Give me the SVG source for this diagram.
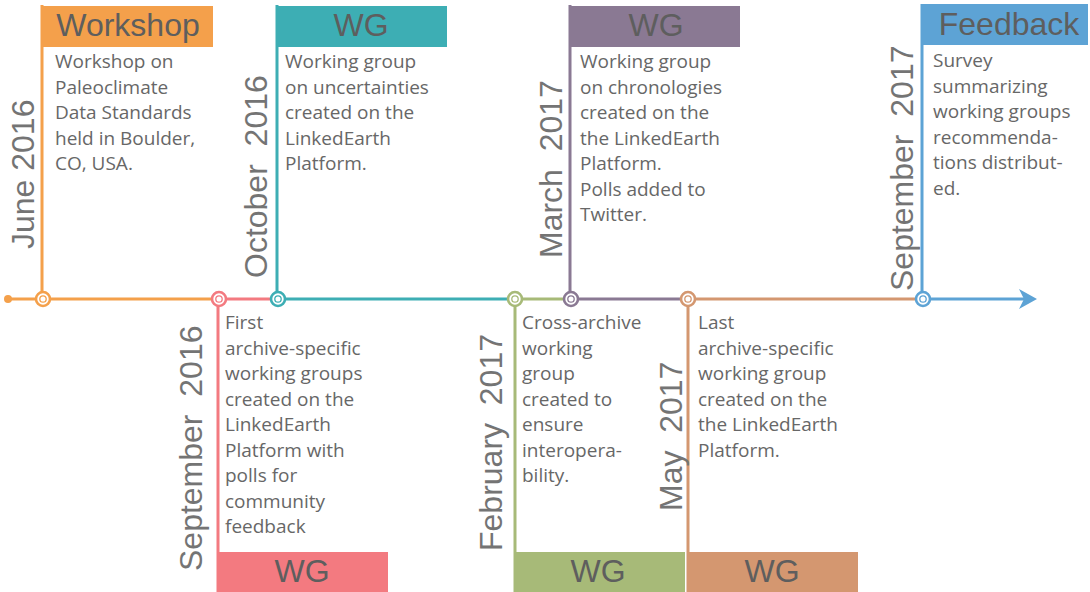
<svg xmlns="http://www.w3.org/2000/svg" width="1090" height="592" viewBox="0 0 1090 592">
<style>
.body{font-family:"Open Sans","Liberation Sans",sans-serif;font-size:19px;fill:#676767}
.title{font-family:"Liberation Sans",Arial,sans-serif;font-size:32px;fill:#5e5e5e;text-anchor:middle}
.date{font-family:"Liberation Sans",Arial,sans-serif;font-size:32px;fill:#747474;white-space:pre}
.stem{stroke-width:3;fill:none}
.seg{stroke-width:3;fill:none}
.ring{fill:#fff;stroke-width:2.6}
.dot{fill:none;stroke-width:1.3}
</style>
<rect width="1090" height="592" fill="#fff"/>
<g id="connectors">
<line class="seg" x1="8" y1="299" x2="219" y2="299" stroke="#F4A04B"/>
<circle cx="8" cy="299" r="4" fill="#F4A04B"/>
<line class="seg" x1="219" y1="299" x2="278" y2="299" stroke="#F37A80"/>
<line class="seg" x1="278" y1="299" x2="515" y2="299" stroke="#3DAEB4"/>
<line class="seg" x1="515" y1="299" x2="571" y2="299" stroke="#A7BA78"/>
<line class="seg" x1="571" y1="299" x2="688" y2="299" stroke="#8A7993"/>
<line class="seg" x1="688" y1="299" x2="923" y2="299" stroke="#D49770"/>
<line class="seg" x1="923" y1="299" x2="1025" y2="299" stroke="#5DA3D5"/>
<path d="M1037,299 L1019,289 L1024,299 L1019,309 Z" fill="#5DA3D5"/>
</g>
<g id="june2016">
<line class="stem" x1="42" y1="5" x2="42" y2="299" stroke="#F4A04B"/>
<rect x="41" y="6" width="172" height="41" fill="#F4A04B"/>
<text class="title" x="128" y="36">Workshop</text>
<text class="body" x="55" y="68"><tspan x="55">Workshop on</tspan><tspan x="55" dy="25.5">Paleoclimate</tspan><tspan x="55" dy="25.5">Data Standards</tspan><tspan x="55" dy="25.5">held in Boulder,</tspan><tspan x="55" dy="25.5">CO, USA.</tspan></text>
<text class="date" transform="translate(34,249) rotate(-90)">June 2016</text>
<circle class="ring" cx="43" cy="299" r="7" stroke="#F4A04B"/>
<circle class="dot" cx="43" cy="299" r="3.2" stroke="#F4A04B"/>
</g>
<g id="sep2016">
<line class="stem" x1="218" y1="299" x2="218" y2="592" stroke="#F37A80"/>
<rect x="217" y="552" width="171" height="40" fill="#F37A80"/>
<text class="title" x="302" y="582">WG</text>
<text class="body" x="225" y="329"><tspan x="225">First</tspan><tspan x="225" dy="25.5">archive-specific</tspan><tspan x="225" dy="25.5">working groups</tspan><tspan x="225" dy="25.5">created on the</tspan><tspan x="225" dy="25.5">LinkedEarth</tspan><tspan x="225" dy="25.5">Platform with</tspan><tspan x="225" dy="25.5">polls for</tspan><tspan x="225" dy="25.5">community</tspan><tspan x="225" dy="25.5">feedback</tspan></text>
<text class="date" xml:space="preserve" transform="translate(202,571) rotate(-90)">September  2016</text>
<circle class="ring" cx="219" cy="299" r="7" stroke="#F37A80"/>
<circle class="dot" cx="219" cy="299" r="3.2" stroke="#F37A80"/>
</g>
<g id="oct2016">
<line class="stem" x1="277" y1="5" x2="277" y2="299" stroke="#3DAEB4"/>
<rect x="276" y="6" width="171" height="41" fill="#3DAEB4"/>
<text class="title" x="361" y="36">WG</text>
<text class="body" x="285" y="68"><tspan x="285">Working group</tspan><tspan x="285" dy="25.5">on uncertainties</tspan><tspan x="285" dy="25.5">created on the</tspan><tspan x="285" dy="25.5">LinkedEarth</tspan><tspan x="285" dy="25.5">Platform.</tspan></text>
<text class="date" xml:space="preserve" transform="translate(267,278) rotate(-90)">October  2016</text>
<circle class="ring" cx="278" cy="299" r="7" stroke="#3DAEB4"/>
<circle class="dot" cx="278" cy="299" r="3.2" stroke="#3DAEB4"/>
</g>
<g id="feb2017">
<line class="stem" x1="515" y1="299" x2="515" y2="592" stroke="#A7BA78"/>
<rect x="514" y="552" width="171" height="40" fill="#A7BA78"/>
<text class="title" x="598" y="582">WG</text>
<text class="body" x="522" y="329"><tspan x="522">Cross-archive</tspan><tspan x="522" dy="25.5">working</tspan><tspan x="522" dy="25.5">group</tspan><tspan x="522" dy="25.5">created to</tspan><tspan x="522" dy="25.5">ensure</tspan><tspan x="522" dy="25.5">interopera-</tspan><tspan x="522" dy="25.5">bility.</tspan></text>
<text class="date" xml:space="preserve" transform="translate(502,551) rotate(-90)">February  2017</text>
<circle class="ring" cx="515" cy="299" r="7" stroke="#A7BA78"/>
<circle class="dot" cx="515" cy="299" r="3.2" stroke="#A7BA78"/>
</g>
<g id="mar2017">
<line class="stem" x1="570" y1="5" x2="570" y2="299" stroke="#8A7993"/>
<rect x="569" y="6" width="171" height="41" fill="#8A7993"/>
<text class="title" x="656" y="36">WG</text>
<text class="body" x="580" y="68"><tspan x="580">Working group</tspan><tspan x="580" dy="25.5">on chronologies</tspan><tspan x="580" dy="25.5">created on the</tspan><tspan x="580" dy="25.5">the LinkedEarth</tspan><tspan x="580" dy="25.5">Platform.</tspan><tspan x="580" dy="25.5">Polls added to</tspan><tspan x="580" dy="25.5">Twitter.</tspan></text>
<text class="date" xml:space="preserve" transform="translate(562,258) rotate(-90)">March  2017</text>
<circle class="ring" cx="571" cy="299" r="7" stroke="#8A7993"/>
<circle class="dot" cx="571" cy="299" r="3.2" stroke="#8A7993"/>
</g>
<g id="may2017">
<line class="stem" x1="688" y1="299" x2="688" y2="592" stroke="#D49770"/>
<rect x="687" y="552" width="171" height="40" fill="#D49770"/>
<text class="title" x="772" y="582">WG</text>
<text class="body" x="698" y="329"><tspan x="698">Last</tspan><tspan x="698" dy="25.5">archive-specific</tspan><tspan x="698" dy="25.5">working group</tspan><tspan x="698" dy="25.5">created on the</tspan><tspan x="698" dy="25.5">the LinkedEarth</tspan><tspan x="698" dy="25.5">Platform.</tspan></text>
<text class="date" xml:space="preserve" transform="translate(682,511) rotate(-90)">May  2017</text>
<circle class="ring" cx="688" cy="299" r="7" stroke="#D49770"/>
<circle class="dot" cx="688" cy="299" r="3.2" stroke="#D49770"/>
</g>
<g id="sep2017">
<line class="stem" x1="922" y1="4" x2="922" y2="299" stroke="#5DA3D5"/>
<rect x="921" y="4" width="167" height="41" fill="#5DA3D5"/>
<text class="title" x="1009" y="35">Feedback</text>
<text class="body" x="933" y="67"><tspan x="933">Survey</tspan><tspan x="933" dy="25.5">summarizing</tspan><tspan x="933" dy="25.5">working groups</tspan><tspan x="933" dy="25.5">recommenda-</tspan><tspan x="933" dy="25.5">tions distribut-</tspan><tspan x="933" dy="25.5">ed.</tspan></text>
<text class="date" xml:space="preserve" transform="translate(913,291) rotate(-90)">September  2017</text>
<circle class="ring" cx="923" cy="299" r="7" stroke="#5DA3D5"/>
<circle class="dot" cx="923" cy="299" r="3.2" stroke="#5DA3D5"/>
</g>
</svg>
